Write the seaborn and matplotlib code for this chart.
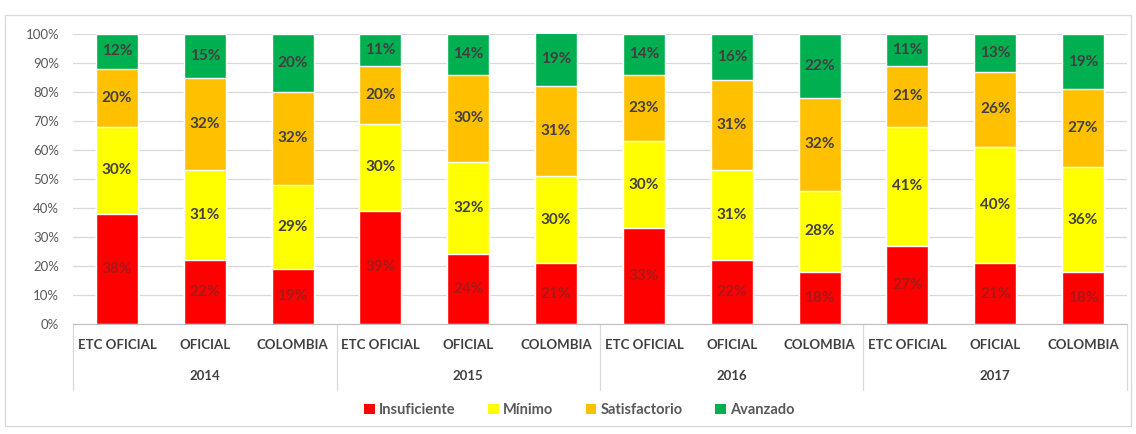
import seaborn as sns
import matplotlib.pyplot as plt
import matplotlib.transforms as mtransforms
from matplotlib.patches import Patch, Rectangle
import pandas as pd

# datos
years = ["2014", "2015", "2016", "2017"]
categories = ["ETC OFICIAL", "OFICIAL", "COLOMBIA"]
insuficiente = [38, 22, 19, 39, 24, 21, 33, 22, 18, 27, 21, 18]
minimo = [30, 31, 29, 30, 32, 30, 30, 31, 28, 41, 40, 36]
satisfactorio = [20, 32, 32, 20, 30, 31, 23, 31, 32, 21, 26, 27]
avanzado = [12, 15, 20, 11, 14, 19, 14, 16, 22, 11, 13, 19]

levels = ["Insuficiente", "Mínimo", "Satisfactorio", "Avanzado"]
colors = ["#FF0000", "#FFFF00", "#FFC000", "#00B050"]
label_colors = ["#a81818", "#404040", "#404040", "#404040"]

df = pd.DataFrame({
    "key": [y + " " + c for y in years for c in categories],
    "Insuficiente": insuficiente,
    "Mínimo": minimo,
    "Satisfactorio": satisfactorio,
    "Avanzado": avanzado,
})
cum = df[levels].cumsum(axis=1) / 100
bot = cum.shift(1, axis=1).fillna(0)

sns.set_style("white")
plt.rcParams["font.family"] = ["Lato", "DejaVu Sans"]

fig = plt.figure(figsize=(11.36, 4.34), dpi=100)
ax = fig.add_axes([73 / 1136, 1 - 324 / 434, 1054 / 1136, 290 / 434])

# barras apiladas: se dibuja el total primero y se tapa con los acumulados menores
for i in range(3, -1, -1):
    sns.barplot(x=df["key"], y=cum[levels[i]], color=colors[i], saturation=1,
                width=0.48, errorbar=None, ax=ax, zorder=2)

# etiquetas de datos
for i, lev in enumerate(levels):
    for j in range(len(df)):
        mid = (bot[lev][j] + cum[lev][j]) / 2
        ax.text(j, mid, f"{df[lev][j]}%", ha="center", va="center",
                fontsize=11, fontweight="bold", color=label_colors[i], zorder=3)

ax.set_xlim(-0.5, 11.5)
ax.set_ylim(0, 1)
ax.set_yticks([k / 10 for k in range(11)])
ax.set_yticklabels([f"{k * 10}%" for k in range(11)], fontsize=9.5, color="#595959")
ax.yaxis.grid(True, color="#d9d9d9", linewidth=0.9, zorder=0)
ax.set_axisbelow(True)
ax.set_xticks(range(12))
ax.set_xticklabels(categories * 4, fontsize=9.5, fontweight="bold", color="#404040")
ax.tick_params(axis="x", length=0, pad=11)
ax.tick_params(axis="y", length=0, pad=10)
ax.set_xlabel("")
ax.set_ylabel("")
for s in ["top", "right", "left"]:
    ax.spines[s].set_visible(False)
ax.spines["bottom"].set_color("#bfbfbf")

# separadores de grupos y etiquetas de anio
trans = mtransforms.blended_transform_factory(ax.transData, ax.transAxes)
for g in range(5):
    ax.plot([g * 3 - 0.5, g * 3 - 0.5], [0, -0.229], transform=trans,
            color="#d9d9d9", linewidth=0.9, clip_on=False)
for g, y in enumerate(years):
    ax.text(g * 3 + 1, -0.18, y, transform=trans, ha="center", va="center",
            fontsize=9.5, fontweight="bold", color="#404040")

handles = [Patch(facecolor=c, edgecolor="none") for c in colors]
fig.legend(handles, levels, loc="center", bbox_to_anchor=(0.51, 1 - 410 / 434),
           ncol=4, frameon=False, fontsize=10.5, handlelength=0.75, handleheight=0.75,
           handletextpad=0.3, columnspacing=2.2, labelcolor="#595959",
           prop={"weight": "bold", "size": 10.5})

fig.patches.append(Rectangle((5 / 1136, 1 - 426 / 434), 1126 / 1136, 411 / 434,
                             transform=fig.transFigure, fill=False,
                             edgecolor="#d9d9d9", linewidth=0.9))

plt.savefig("out.png", dpi=100)
